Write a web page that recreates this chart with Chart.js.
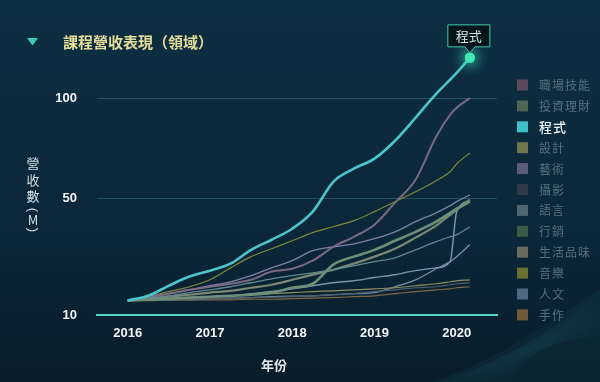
<!DOCTYPE html>
<html><head><meta charset="utf-8">
<script src="https://cdn.jsdelivr.net/npm/chart.js@4.4.0/dist/chart.umd.min.js"></script>
<style>html,body{margin:0;padding:0;background:#0b2536;}#wrap{width:600px;height:382px;position:relative;}</style>
</head><body><div id="wrap"><canvas id="c"></canvas></div>
<script>
// ---- data ----
const YEARS = [2016, 2016.25, 2016.5, 2016.75, 2017, 2017.25, 2017.5, 2017.75, 2018, 2018.25, 2018.5, 2018.75, 2019, 2019.25, 2019.5, 2019.75, 2019.92, 2020, 2020.16];
const CATEGORIES = ['職場技能','投資理財','程式','設計','藝術','攝影','語言','行銷','生活品味','音樂','人文','手作'];
const careerSkills = [13.7,14.75,15.6,16.7,17.6,18.5,19.7,22.3,23.2,25.9,30.8,34.5,39.2,48.3,58.4,79.3,90.9,94.7,100];
const finance      = [13.7,13.9,14.2,14.5,14.75,15.0,15.3,15.9,17.3,18.5,24.6,27.3,29.7,33.0,36.4,40.4,44.0,45.7,48.7];
const programming  = [13.7,15.0,17.9,20.7,22.6,24.9,29.7,33.4,37.6,44.5,57.5,63.6,68.4,77.3,89.3,102.4,110.5,114.5,123.4];
const design       = [13.7,13.9,14.2,14.5,14.75,15.0,15.3,15.6,15.9,16.2,16.4,16.7,17.0,17.3,17.9,18.5,19.1,19.4,19.7];
const art          = [13.7,14.5,15.6,16.7,17.9,19.1,21.0,23.5,25.9,29.4,30.8,31.9,33.8,36.4,40.4,44.0,47.0,48.7,51.7];
const photography  = [13.7,13.8,13.9,14.05,14.2,14.35,14.5,14.6,14.75,15.0,15.3,15.6,16.2,16.7,17.3,17.6,18.2,18.5,18.8];
const language     = [13.7,14.2,15.0,15.9,16.7,17.6,18.8,20.0,21.0,21.9,22.9,24.2,25.6,26.9,29.7,32.7,34.5,35.3,38.4];
const marketing    = [13.7,13.8,13.9,14.05,14.2,14.35,14.5,14.75,14.9,15.0,15.3,15.6,15.9,17.6,19.7,23.2,25.6,27.3,31.6];
const lifestyle    = [13.7,14.2,14.75,15.3,15.9,16.4,17.3,18.2,19.7,21.3,22.9,24.9,27.3,30.1,34.2,38.8,43.2,45.3,49.6];
const music        = [13.7,14.75,16.2,17.6,19.7,23.5,27.3,30.1,33.0,36.1,38.4,40.8,44.5,48.7,53.0,58.0,62.2,65.9,71.2];
const humanities   = [13.7,13.9,14.2,14.5,14.75,15.0,15.6,16.2,17.0,17.9,18.8,19.4,20.4,21.3,22.6,23.5,25.6,44.5,49.1];
const crafts       = [13.7,13.7,13.8,13.8,13.9,13.9,14.05,14.05,14.2,14.35,14.5,14.75,15.0,15.6,16.2,16.7,17.0,17.3,17.6];
const X_TICKS = [2016, 2017, 2018, 2019, 2020];
const Y_TICKS = [10, 50, 100];
const HIGHLIGHT = '程式';

// ---- styles ----
const SERIES = [careerSkills, finance, programming, design, art, photography, language, marketing, lifestyle, music, humanities, crafts];
const LINE_COLORS = ['#7a6a80','#6e8e78','#4cc4cc','#8c8f62','#7f82a6','#4e5e6c','#5e8990','#7890a4','#7a8874','#7e8a3c','#8294aa','#7d6a45'];
const LINE_WIDTHS = [2, 2.6, 2.6, 1.2, 1.3, 1.2, 1.3, 1.3, 2.2, 1.2, 1.4, 1.2];
const SWATCH = ['#5b4a5d','#4d6552','#40bfc8','#727650','#5c5c78','#2e3a48','#4f6670','#3e5a44','#6a6a5e','#6a7030','#4d6880','#6f5a3a'];
const EXP = 0.635;
const CJK = '"Noto Sans CJK TC", "Noto Sans CJK SC", sans-serif';
const NUMF = '"Liberation Sans", Arial, sans-serif';

class PowScale extends Chart.LinearScale {
  getPixelForValue(value) {
    if (value === null || value === undefined || !isFinite(value)) return NaN;
    const a = Math.pow(this.min, EXP), b = Math.pow(this.max, EXP);
    return this.getPixelForDecimal((Math.pow(Math.max(value, 0), EXP) - a) / (b - a));
  }
  getValueForPixel(pixel) {
    const a = Math.pow(this.min, EXP), b = Math.pow(this.max, EXP);
    return Math.pow(a + this.getDecimalForPixel(pixel) * (b - a), 1 / EXP);
  }
}
PowScale.id = 'pow';
PowScale.defaults = Chart.LinearScale.defaults;
Chart.register(PowScale);

const datasets = CATEGORIES.map((name, i) => ({
  label: name,
  data: YEARS.map((x, j) => ({ x: x, y: SERIES[i][j] })),
  borderColor: LINE_COLORS[i],
  borderWidth: LINE_WIDTHS[i],
  cubicInterpolationMode: 'monotone',
  pointRadius: 0,
  fill: false,
  order: name === HIGHLIGHT ? -1 : i
}));

const bgPlugin = {
  id: 'bg',
  beforeDraw(chart) {
    const ctx = chart.ctx, W = chart.width, H = chart.height;
    ctx.save();
    const g = ctx.createLinearGradient(0, 0, 0, H);
    g.addColorStop(0, '#0d2f42');
    g.addColorStop(0.6, '#0b2739');
    g.addColorStop(1, '#091c2a');
    ctx.fillStyle = g;
    ctx.fillRect(0, 0, W, H);
    ctx.beginPath();
    ctx.moveTo(430, H);
    ctx.bezierCurveTo(500, 360, 550, 320, W, 290);
    ctx.lineTo(W, H);
    ctx.closePath();
    ctx.fillStyle = 'rgba(20,75,85,0.18)';
    ctx.fill();
    ctx.lineWidth = 0.6;
    for (let i = 0; i < 26; i++) {
      const t = i / 25;
      ctx.beginPath();
      ctx.moveTo(440 + t * 70, H);
      ctx.bezierCurveTo(505 + t * 20, 362 - t * 8, 550, 330 + t * 10, W, 295 + t * 40);
      ctx.strokeStyle = 'rgba(50,130,140,' + (0.10 + 0.08 * Math.sin(t * 3.1)) + ')';
      ctx.stroke();
    }
    ctx.restore();
  }
};

const decoPlugin = {
  id: 'deco',
  afterDatasetsDraw(chart) {
    const ctx = chart.ctx;
    const idx = CATEGORIES.indexOf(HIGHLIGHT);
    const meta = chart.getDatasetMeta(idx);
    const pt = meta.data[meta.data.length - 1];
    const x = pt.x, y = pt.y;
    ctx.save();
    ctx.shadowColor = 'rgba(60,240,190,0.95)';
    ctx.shadowBlur = 14;
    ctx.fillStyle = '#3fe8b4';
    ctx.beginPath(); ctx.arc(x, y, 5, 0, Math.PI * 2); ctx.fill(); ctx.fill();
    ctx.restore();
    ctx.save();
    const w = 42, h = 22, bottom = y - 11, top = bottom - h, l = x - w / 2 - 1, r = x + w / 2 - 1;
    ctx.beginPath();
    ctx.moveTo(l, top); ctx.lineTo(r, top); ctx.lineTo(r, bottom);
    ctx.lineTo(x + 5, bottom); ctx.lineTo(x, bottom + 6); ctx.lineTo(x - 5, bottom);
    ctx.lineTo(l, bottom); ctx.closePath();
    ctx.fillStyle = '#06141b';
    ctx.fill();
    ctx.strokeStyle = '#3ccfae';
    ctx.lineWidth = 1;
    ctx.stroke();
    ctx.fillStyle = '#d4e8e8';
    ctx.font = '13px ' + CJK;
    ctx.textAlign = 'center'; ctx.textBaseline = 'middle';
    ctx.fillText(HIGHLIGHT, x - 1, (top + bottom) / 2 + 0.5);
    ctx.restore();
  },
  afterDraw(chart) {
    const ctx = chart.ctx;
    ctx.save();
    ctx.fillStyle = '#3fcfb0';
    ctx.beginPath(); ctx.moveTo(27, 38); ctx.lineTo(38, 38); ctx.lineTo(32.5, 45.5); ctx.closePath(); ctx.fill();
    ctx.fillStyle = '#e6dc9a';
    ctx.font = 'bold 15px ' + CJK;
    ctx.textAlign = 'left'; ctx.textBaseline = 'middle';
    ctx.fillText('課程營收表現（領域）', 63, 42);
    // y axis title (stacked vertical)
    ctx.fillStyle = '#d6dde0';
    ctx.font = '13px ' + CJK;
    ctx.textAlign = 'center';
    [['營',163],['收',180],['數',196],['M',220]].forEach(([c, yy]) => ctx.fillText(c, 33, yy));
    [['(',210],[')',230]].forEach(([c, yy]) => {
      ctx.save();
      ctx.translate(33, yy);
      ctx.rotate(Math.PI / 2);
      ctx.font = '13px ' + NUMF;
      ctx.fillText(c, 0, 0);
      ctx.restore();
    });
    // x axis title
    ctx.font = 'bold 13px ' + CJK;
    ctx.fillStyle = '#e4eaec';
    ctx.fillText('年份', 274, 365);
    // legend
    CATEGORIES.forEach((name, i) => {
      const cy = 85 + i * 20.9;
      ctx.fillStyle = SWATCH[i];
      ctx.fillRect(517, cy - 5.5, 11, 11);
      const hi = name === HIGHLIGHT;
      ctx.fillStyle = hi ? '#eef4f4' : '#55707c';
      ctx.font = (hi ? '500 13px ' : '12px ') + CJK;
      ctx.letterSpacing = '1px';
      ctx.textAlign = 'left';
      ctx.fillText(name, 539, cy + 0.5);
      ctx.letterSpacing = '0px';
    });
    ctx.restore();
  }
};

new Chart(document.getElementById('c'), {
  type: 'line',
  data: { datasets },
  options: {
    responsive: true,
    maintainAspectRatio: false,
    animation: false,
    layout: { padding: { left: 0, right: 103, top: 47, bottom: 0 } },
    plugins: { legend: { display: false }, tooltip: { enabled: false }, title: { display: false } },
    scales: {
      x: {
        type: 'linear',
        min: 2015.627, max: 2020.49,
        afterBuildTicks: s => { s.ticks = X_TICKS.map(v => ({ value: v })); },
        afterFit: s => { s.height = 67; },
        grid: { display: false, drawTicks: false },
        border: { display: true, color: '#4fd8c8', width: 2 },
        ticks: { color: '#f2f6f8', padding: 11, font: { family: NUMF, size: 13, weight: 'bold' }, callback: v => String(v), maxRotation: 0 }
      },
      y: {
        type: 'pow',
        min: 10, max: 130,
        afterBuildTicks: s => { s.ticks = Y_TICKS.map(v => ({ value: v })); },
        afterFit: s => { s.width = 97; },
        grid: { drawTicks: false, lineWidth: 1, color: c => (c.tick && c.tick.value === 10) ? 'rgba(0,0,0,0)' : 'rgba(70,130,145,0.45)' },
        border: { display: false },
        ticks: { color: '#f2f6f8', padding: 20, font: { family: NUMF, size: 13, weight: 'bold' }, callback: v => String(v) }
      }
    }
  },
  plugins: [bgPlugin, decoPlugin]
});
</script></body></html>
